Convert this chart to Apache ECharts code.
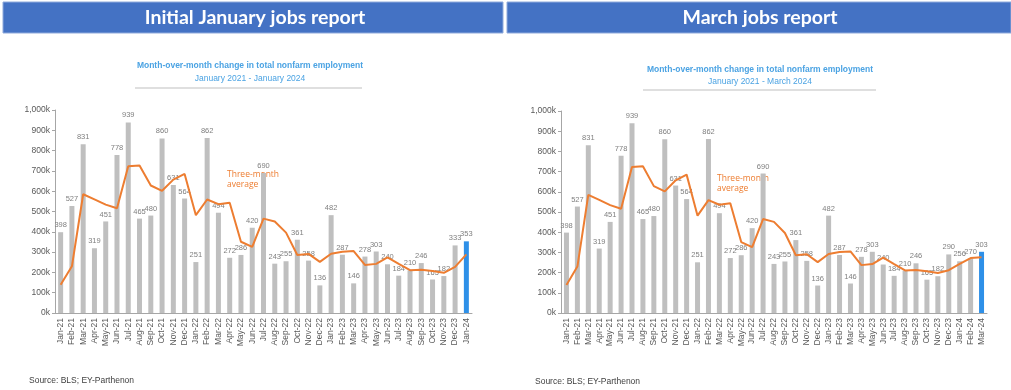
<!DOCTYPE html>
<html><head><meta charset="utf-8">
<script src="https://cdn.jsdelivr.net/npm/echarts@6/dist/echarts.min.js"></script>
<style>html,body{margin:0;padding:0;background:#fff;}#c{width:1011px;height:390px;}</style>
</head><body><div id="c"></div>
<script>
const monthsJan = ['Jan-21','Feb-21','Mar-21','Apr-21','May-21','Jun-21','Jul-21','Aug-21','Sep-21','Oct-21','Nov-21','Dec-21',
'Jan-22','Feb-22','Mar-22','Apr-22','May-22','Jun-22','Jul-22','Aug-22','Sep-22','Oct-22','Nov-22','Dec-22',
'Jan-23','Feb-23','Mar-23','Apr-23','May-23','Jun-23','Jul-23','Aug-23','Sep-23','Oct-23','Nov-23','Dec-23','Jan-24'];
const monthsMar = ['Jan-21','Feb-21','Mar-21','Apr-21','May-21','Jun-21','Jul-21','Aug-21','Sep-21','Oct-21','Nov-21','Dec-21',
'Jan-22','Feb-22','Mar-22','Apr-22','May-22','Jun-22','Jul-22','Aug-22','Sep-22','Oct-22','Nov-22','Dec-22',
'Jan-23','Feb-23','Mar-23','Apr-23','May-23','Jun-23','Jul-23','Aug-23','Sep-23','Oct-23','Nov-23','Dec-23','Jan-24','Feb-24','Mar-24'];
const jobsJan = [398,527,831,319,451,778,939,465,480,860,631,564,251,862,494,272,286,420,690,243,255,361,258,136,482,287,146,278,303,240,184,210,246,165,182,333,353];
const avgJan  = [139,230,585,560,534,516,723,727,628,602,657,685,482,559,536,543,351,326,465,451,396,286,291,252,292,302,305,237,242,274,242,211,213,207,198,227,289];
const jobsMar = [398,527,831,319,451,778,939,465,480,860,631,564,251,862,494,272,286,420,690,243,255,361,258,136,482,287,146,278,303,240,184,210,246,165,182,290,256,270,303];
const avgMar  = [139,230,585,560,534,516,723,727,628,602,657,685,482,559,536,543,351,326,465,451,396,286,291,252,292,302,305,237,242,274,242,211,213,207,198,212,243,272,276];
const yTicks = ['0k','100k','200k','300k','400k','500k','600k','700k','800k','900k','1,000k'];

const GRAY='#bfbfbf', BLUE='#2E90E8', ORANGE='#ED7D31', TXT='#595959';
function barData(vals){
  return vals.map((v,i)=> i===vals.length-1 ? {value:v,itemStyle:{color:BLUE}} : v);
}
function xAxis(idx, cats){
  return {type:'category', gridIndex:idx, data:cats,
    axisLine:{lineStyle:{color:'#a6a6a6',width:1}}, axisTick:{show:false},
    axisLabel:{rotate:90, fontSize:8.5, color:TXT, fontFamily:'Liberation Sans', margin:5, interval:0}};
}
function yAxis(idx){
  return {type:'value', gridIndex:idx, min:0, max:1000, interval:100,
    axisLine:{show:true, lineStyle:{color:'#a6a6a6',width:1}},
    axisTick:{show:true, length:3, lineStyle:{color:'#a6a6a6'}},
    splitLine:{show:false},
    axisLabel:{fontSize:8.5, color:TXT, fontFamily:'Liberation Sans', margin:5,
      formatter:(v)=> yTicks[Math.round(v/100)]}};
}
const lbl = {show:true, position:'top', fontSize:7.5, color:'#7f7f7f', fontFamily:'Liberation Sans', distance:3};

const chart = echarts.init(document.getElementById('c'));
chart.setOption({
  animation:false,
  grid:[
    {left:55, top:110, width:417, height:203},
    {left:561, top:111, width:426, height:202}
  ],
  xAxis:[xAxis(0,monthsJan), xAxis(1,monthsMar)],
  yAxis:[yAxis(0), yAxis(1)],
  series:[
    {type:'bar', xAxisIndex:0, yAxisIndex:0, data:barData(jobsJan), barWidth:5, itemStyle:{color:GRAY}, label:lbl},
    {type:'line', xAxisIndex:0, yAxisIndex:0, data:avgJan, symbol:'none', lineStyle:{color:ORANGE,width:2}, z:5},
    {type:'bar', xAxisIndex:1, yAxisIndex:1, data:barData(jobsMar), barWidth:5, itemStyle:{color:GRAY}, label:lbl},
    {type:'line', xAxisIndex:1, yAxisIndex:1, data:avgMar, symbol:'none', lineStyle:{color:ORANGE,width:2}, z:5}
  ],
  graphic:[
    {type:'rect', shape:{x:3,y:2,width:500,height:31}, style:{fill:'#4472C4', stroke:'#8faadc', lineWidth:1}},
    {type:'rect', shape:{x:507,y:2,width:504,height:31}, style:{fill:'#4472C4', stroke:'#8faadc', lineWidth:1}},
    {type:'text', x:255, y:18, style:{text:'Initial January jobs report', fill:'#fff', font:'bold 19.5px Lato', align:'center', verticalAlign:'middle'}},
    {type:'text', x:760, y:18, style:{text:'March jobs report', fill:'#fff', font:'bold 19.5px Lato', align:'center', verticalAlign:'middle'}},
    {type:'text', x:250, y:66, style:{text:'Month-over-month change in total nonfarm employment', fill:'#4ba3e3', font:'bold 8.5px "Liberation Sans"', align:'center', verticalAlign:'middle'}},
    {type:'text', x:250, y:79, style:{text:'January 2021 - January 2024', fill:'#4ba3e3', font:'8.5px "Liberation Sans"', align:'center', verticalAlign:'middle'}},
    {type:'line', shape:{x1:135,y1:88,x2:362,y2:88}, style:{stroke:'#bfbfbf', lineWidth:1}},
    {type:'text', x:760, y:70, style:{text:'Month-over-month change in total nonfarm employment', fill:'#4ba3e3', font:'bold 8.5px "Liberation Sans"', align:'center', verticalAlign:'middle'}},
    {type:'text', x:760, y:82, style:{text:'January 2021 - March 2024', fill:'#4ba3e3', font:'8.5px "Liberation Sans"', align:'center', verticalAlign:'middle'}},
    {type:'line', shape:{x1:643,y1:90,x2:876,y2:90}, style:{stroke:'#bfbfbf', lineWidth:1}},
    {type:'text', x:227, y:180, style:{text:'Three-month\naverage', fill:ORANGE, font:'8.5px "Open Sans"', lineHeight:10, align:'left', verticalAlign:'middle'}},
    {type:'text', x:717, y:184, style:{text:'Three-month\naverage', fill:ORANGE, font:'8.5px "Open Sans"', lineHeight:10, align:'left', verticalAlign:'middle'}},
    {type:'text', x:29, y:381, style:{text:'Source: BLS; EY-Parthenon', fill:'#404040', font:'8.5px "Liberation Sans"', align:'left', verticalAlign:'middle'}},
    {type:'text', x:535, y:382, style:{text:'Source: BLS; EY-Parthenon', fill:'#404040', font:'8.5px "Liberation Sans"', align:'left', verticalAlign:'middle'}}
  ]
});
</script></body></html>
